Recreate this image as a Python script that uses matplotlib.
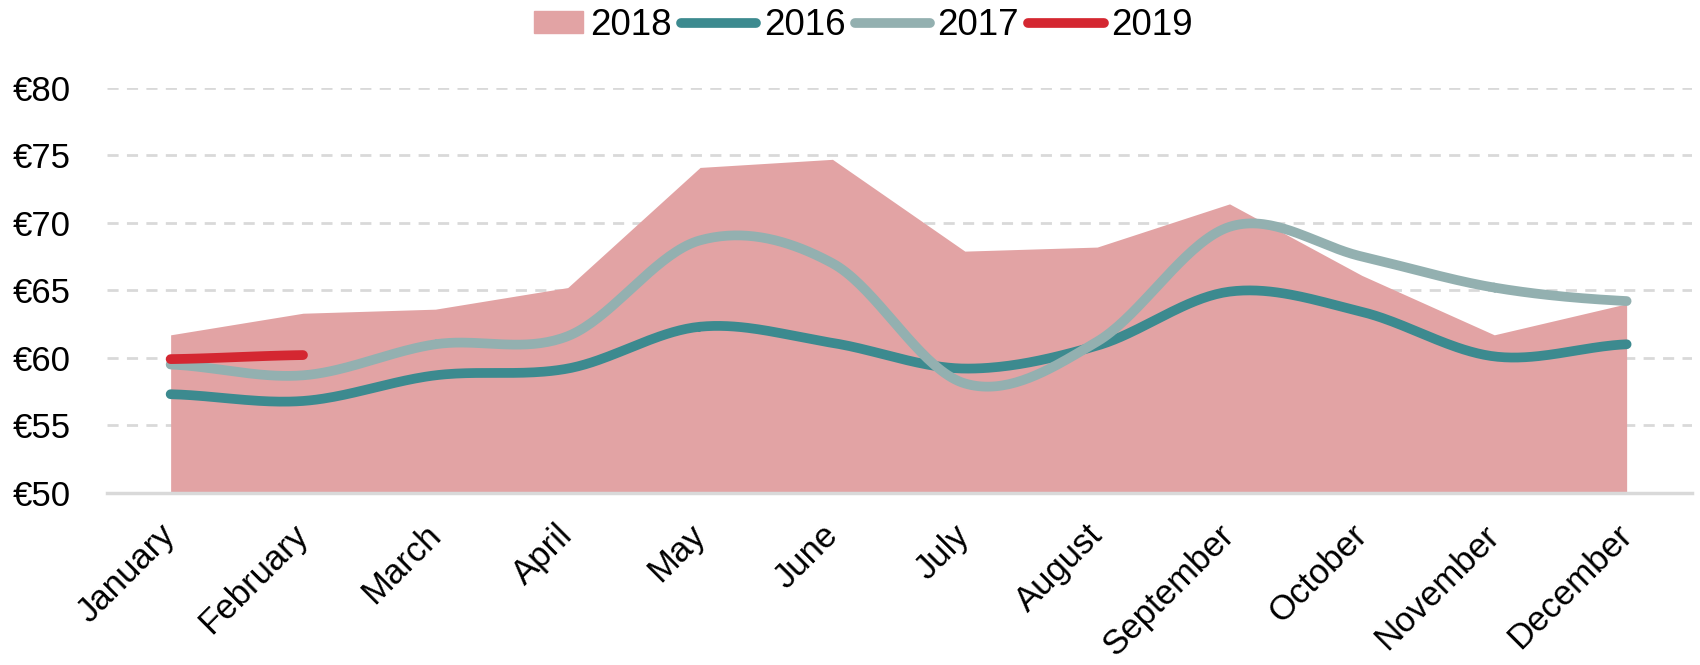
import numpy as np
import matplotlib
matplotlib.use('Agg')
import matplotlib.pyplot as plt
from matplotlib.patches import Patch, Rectangle
from matplotlib.lines import Line2D
from matplotlib.legend_handler import HandlerPatch

months = ['January', 'February', 'March', 'April', 'May', 'June',
          'July', 'August', 'September', 'October', 'November', 'December']
price_2018 = [61.7, 63.3, 63.6, 65.2, 74.1, 74.7, 67.9, 68.2, 71.4, 66.1, 61.7, 64.0]
price_2016 = [57.3, 56.8, 58.7, 59.2, 62.3, 61.1, 59.2, 60.9, 64.9, 63.4, 60.1, 61.0]
price_2017 = [59.5, 58.7, 61.0, 61.6, 68.7, 67.0, 58.1, 61.2, 69.7, 67.5, 65.2, 64.2]
price_2019 = [59.9, 60.2]
y_ticks = [50, 55, 60, 65, 70, 75, 80]


def smooth(y, n=40):
    # Catmull-Rom curve through the points, like Excel's smoothed line
    y = list(y)
    xs, ys = [], []
    for i in range(len(y) - 1):
        p0 = y[i - 1] if i > 0 else y[i]
        p1 = y[i]
        p2 = y[i + 1]
        p3 = y[i + 2] if i + 2 < len(y) else y[i + 1]
        t = np.linspace(0, 1, n)
        v = 0.5 * (2 * p1 + (-p0 + p2) * t
                   + (2 * p0 - 5 * p1 + 4 * p2 - p3) * t ** 2
                   + (-p0 + 3 * p1 - 3 * p2 + p3) * t ** 3)
        xs.extend(i + t)
        ys.extend(v)
    return np.array(xs), np.array(ys)


def short_rect(legend, orig_handle, xdescent, ydescent, width, height, fontsize):
    # patch handle a bit shorter than the line handles, flush to the text
    w = 0.64 * width
    return Rectangle((-xdescent + width - w, -ydescent), w, height)


plt.rcParams['font.family'] = ['Liberation Sans', 'DejaVu Sans']

fig = plt.figure(figsize=(17, 6.65), dpi=100)
ax = fig.add_axes([0.063, 0.259, 0.932, 0.609])

x = np.arange(len(months))
ax.fill_between(x, 50, price_2018, color='#e2a3a4', linewidth=0, zorder=2)

c16 = '#3c8a8f'
c17 = '#93b0b0'
c19 = '#d42731'
xs, ys = smooth(price_2016)
ax.plot(xs, ys, color=c16, lw=7, solid_capstyle='round', zorder=3)
xs, ys = smooth(price_2017)
ax.plot(xs, ys, color=c17, lw=7, solid_capstyle='round', zorder=4)
xs, ys = smooth(price_2019)
ax.plot(xs, ys, color=c19, lw=7, solid_capstyle='round', zorder=5)

ax.set_xlim(-0.48, 11.49)
ax.set_ylim(50, 80)
ax.set_yticks(y_ticks)
ax.set_yticklabels(['€%d' % v for v in y_ticks], fontsize=25)
ax.set_xticks(x)
ax.set_xticklabels(months, fontsize=25, rotation=45, ha='right', va='center',
                   rotation_mode='anchor')
ax.tick_params(axis='y', length=0, pad=26)
ax.tick_params(axis='x', length=0, pad=27)

for v in y_ticks[1:]:
    ax.axhline(v, color='#d9d9d9', lw=2, ls=(0, (4, 3)), zorder=1)
for s in ['top', 'right', 'left']:
    ax.spines[s].set_visible(False)
ax.spines['bottom'].set_color('#d9d9d9')
ax.spines['bottom'].set_linewidth(2.5)
ax.spines['bottom'].set_zorder(6)

area_handle = Patch(color='#e2a3a4')
handles = [area_handle,
           Line2D([], [], color=c16, lw=7, solid_capstyle='round'),
           Line2D([], [], color=c17, lw=7, solid_capstyle='round'),
           Line2D([], [], color=c19, lw=7, solid_capstyle='round')]
fig.legend(handles, ['2018', '2016', '2017', '2019'], loc='center',
           bbox_to_anchor=(0.5, 0.962), ncol=4, frameon=False, fontsize=26.5,
           handlelength=2.05, handleheight=0.55, handletextpad=0.2,
           columnspacing=0.25,
           handler_map={area_handle: HandlerPatch(patch_func=short_rect)})

fig.savefig('out.png', dpi=100)
